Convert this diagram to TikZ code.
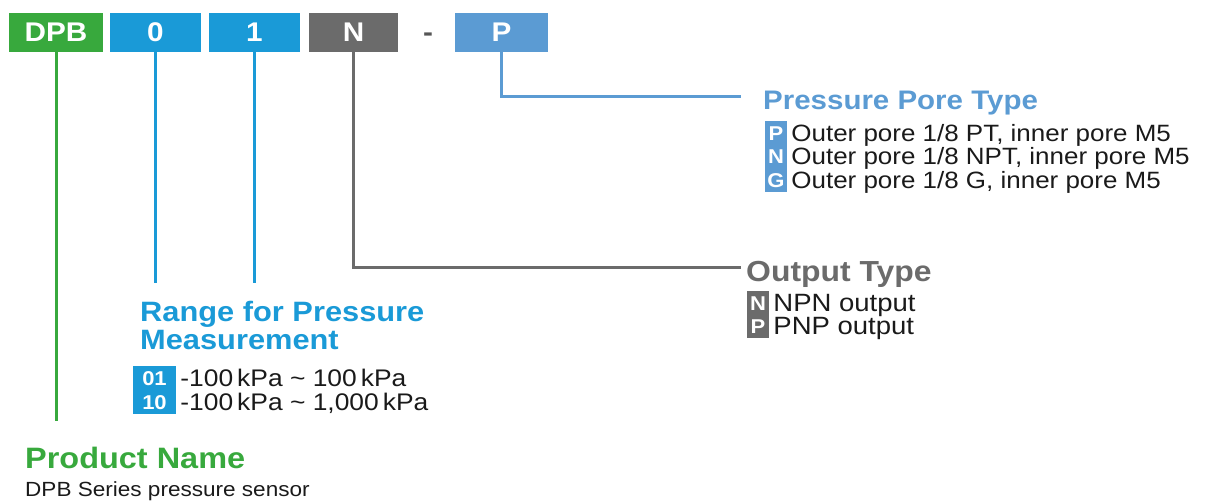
\documentclass[tikz,border=0pt]{standalone}
\usepackage{fontspec}
\setmainfont{Liberation Sans}[FakeStretch=1.1]
\usepackage{xcolor}
\usetikzlibrary{positioning}
\definecolor{DPB_Green}{HTML}{38A93D}
\definecolor{DPB_Blue}{HTML}{1A9AD7}
\definecolor{DPB_Gray}{HTML}{6B6B6B}
\definecolor{DPB_Sky}{HTML}{5B9BD3}
\definecolor{DPB_Text}{HTML}{1A1A1A}

\begin{document}
\begin{tikzpicture}[x=1pt, y=-1pt,
    codebox/.style={minimum height=39pt, inner sep=0pt, text=white, text height=19pt, text depth=0pt,
        font=\fontsize{27}{27}\selectfont\bfseries},
    badge/.style={minimum width=22pt, inner sep=0pt, text=white, text height=14.5pt, text depth=0pt,
        font=\fontsize{20}{20}\selectfont\bfseries},
    headtxt/.style={anchor=west, inner sep=0pt, text height=20pt, text depth=0pt,
        font=\fontsize{#1}{#1}\selectfont\bfseries},
    headtxt/.default=28,
    bodytxt/.style={anchor=west, inner sep=0pt, text=DPB_Text, text height=16.5pt, text depth=0pt,
        font=\fontsize{#1}{#1}\selectfont},
    bodytxt/.default=24,
    link/.style={line width=3pt}]

    \useasboundingbox (0,0) rectangle (1224,502);

    % Code boxes
    \node[codebox, fill=DPB_Green, minimum width=94pt] (dpb) at (56,32.5) {DPB};
    \node[codebox, fill=DPB_Blue, minimum width=91pt] (zero) at (155.5,32.5) {0};
    \node[codebox, fill=DPB_Blue, minimum width=91pt] (one) at (254.5,32.5) {1};
    \node[codebox, fill=DPB_Gray, minimum width=89pt] (nbox) at (353.5,32.5) {N};
    \node[codebox, text=DPB_Gray!80!black] (dash) at (428,32.5) {-};
    \node[codebox, fill=DPB_Sky, minimum width=93pt] (pbox) at (501.5,32.5) {P};

    % Pressure pore type
    \node[headtxt=26.8, text=DPB_Sky] (porehead) at (763,100) {Pressure Pore Type};
    \node[badge, fill=DPB_Sky, minimum height=23.5pt] (pp) at (776,133) {P};
    \node[badge, fill=DPB_Sky, minimum height=23.5pt] (pn) at (776,156.5) {N};
    \node[badge, fill=DPB_Sky, minimum height=23.5pt] (pg) at (776,180) {G};
    \node[bodytxt=23.6, right=4pt of pp] (ppt) {Outer pore 1/8 PT, inner pore M5};
    \node[bodytxt=23.6, right=4pt of pn] (pnt) {Outer pore 1/8 NPT, inner pore M5};
    \node[bodytxt=23.6, right=4pt of pg] (pgt) {Outer pore 1/8 G, inner pore M5};

    % Output type
    \node[headtxt=29, text=DPB_Gray] (outhead) at (746,272) {Output Type};
    \node[badge, fill=DPB_Gray, minimum height=23.5pt] (on) at (758,303) {N};
    \node[badge, fill=DPB_Gray, minimum height=23.5pt] (op) at (758,326.5) {P};
    \node[bodytxt=25, right=4pt of on] (ont) {NPN output};
    \node[bodytxt=25, right=4pt of op] (opt) {PNP output};

    % Range for pressure measurement
    \node[headtxt, text=DPB_Blue] (rangehead) at (140,312) {Range for Pressure};
    \node[headtxt, text=DPB_Blue] (rangehead2) at (140,340) {Measurement};
    \node[badge, fill=DPB_Blue, minimum width=43pt, minimum height=24pt] (r01) at (154.5,378) {01};
    \node[badge, fill=DPB_Blue, minimum width=43pt, minimum height=24pt] (r10) at (154.5,402) {10};
    \node[bodytxt, right=4pt of r01] (r01t) {-100\,kPa \textasciitilde{} 100\,kPa};
    \node[bodytxt, right=4pt of r10] (r10t) {-100\,kPa \textasciitilde{} 1,000\,kPa};

    % Product name
    \node[headtxt=29.5, text=DPB_Green] (prodhead) at (25,458) {Product Name};
    \node[bodytxt=20.5] (prodt) at (25,488) {DPB Series pressure sensor};

    % Connectors
    \coordinate (dpbend) at (55,421);
    \coordinate (rangeend) at (0,283);
    \coordinate (outend) at (741,268);
    \coordinate (poreend) at (741,97);
    \draw[link, DPB_Green] (dpb.south) -- (dpb.south |- dpbend);
    \draw[link, DPB_Blue] (zero.south) -- (zero.south |- rangeend);
    \draw[link, DPB_Blue] (one.south) -- (one.south |- rangeend);
    \draw[link, DPB_Gray] (nbox.south) |- (outend);
    \draw[link, DPB_Sky] (pbox.south) |- (poreend);

\end{tikzpicture}
\end{document}
